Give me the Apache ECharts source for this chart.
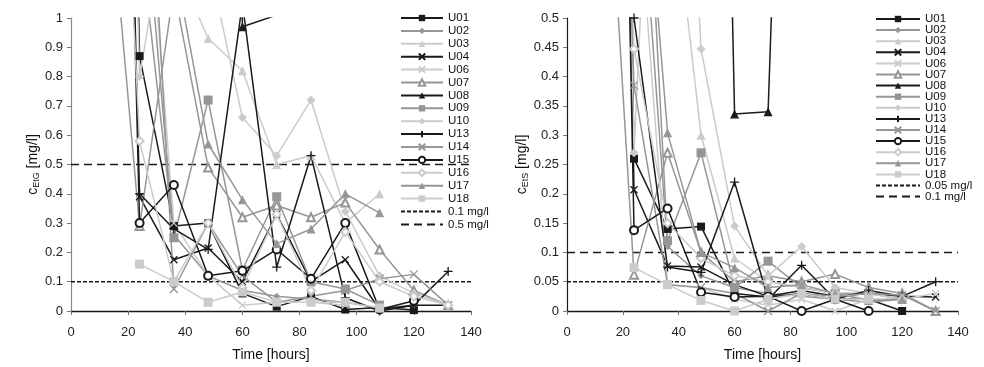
<!DOCTYPE html>
<html>
<head>
<meta charset="utf-8">
<script src="https://cdn.jsdelivr.net/npm/echarts@6/dist/echarts.min.js"></script>
<style>
  html, body { margin: 0; padding: 0; background: #fff; }
  #main { width: 984px; height: 367px; }
</style>
</head>
<body>
<div id="main"></div>
<script>
// sampling times (hours); first column is the off-scale early sample
var hours = [12, 24, 36, 48, 60, 72, 84, 96, 108, 120, 132];
var names = ['U01', 'U02', 'U03', 'U04', 'U06', 'U07', 'U08', 'U09', 'U10', 'U13', 'U14', 'U15', 'U16', 'U17', 'U18'];

// EtG [mg/l]
var etgU01 = [6, 0.87, 0.29, 0.30, 0.06, 0.015, 0.05, 0.005, 0.012, 0.003, null];
var etgU02 = [2.5, 1.3, 0.26, 0.12, 0.07, 0.05, 0.04, 0.03, 0.01, 0.02, null];
var etgU03 = [4, 2.5, 1.2, 0.93, 0.82, 0.50, 0.53, 0.30, 0.40, null, null];
var etgU04 = [5, 0.39, 0.175, 0.215, 0.10, 0.33, 0.10, 0.175, 0.005, 0.02, 0.02];
var etgU06 = [3, 1.8, 0.30, 0.12, 0.02, 0.03, 0.03, 0.02, null, null, null];
var etgU07 = [1.6, 0.29, 1.1, 0.49, 0.32, 0.36, 0.32, 0.37, 0.21, 0.07, 0.02];
var etgU08 = [null, 6, 4, 8, 0.97, 1.01, 2.5, null, null, null, null];
var etgU09 = [3, 1.6, 0.25, 0.72, 0.14, 0.39, 0.10, 0.075, 0.02, null, null];
var etgU10 = [5, 0.80, 1.5, 1.2, 0.66, 0.53, 0.72, 0.34, 0.12, 0.06, 0.02];
var etgU13 = [null, 0.40, 0.28, 0.21, 1.05, 0.15, 0.53, 0.045, 0.0, 0.02, 0.135];
var etgU14 = [4, 2.2, 0.075, 0.30, 0.12, 0.03, 0.05, 0.07, 0.11, 0.125, 0.02];
var etgU15 = [5, 0.30, 0.43, 0.12, 0.137, 0.21, 0.11, 0.30, 0.005, 0.035, null];
var etgU16 = [3, 0.58, 0.10, 0.30, 0.08, 0.33, 0.07, 0.27, 0.10, 0.05, 0.02];
var etgU17 = [2.5, 2, 1.2, 0.57, 0.38, 0.23, 0.28, 0.40, 0.335, null, null];
var etgU18 = [null, 0.16, 0.10, 0.03, 0.065, 0.03, 0.03, 0.03, 0.01, null, null];

// EtS [mg/l]
var etsU01 = [4, 0.26, 0.14, 0.144, 0.03, 0.024, 0.03, 0.02, 0.02, 0.0, null];
var etsU02 = [3, 0.9, 0.11, 0.06, 0.04, 0.03, 0.025, 0.02, 0.015, 0.02, null];
var etsU03 = [3, 1.5, 0.8, 0.30, 0.09, 0.05, 0.04, 0.03, 0.03, null, null];
var etsU04 = [3, 0.207, 0.077, 0.075, 0.045, 0.025, 0.035, 0.025, 0.03, 0.025, 0.024];
var etsU06 = [2, 0.8, 0.045, 0.04, 0.02, 0.01, 0.02, 0.0, 0.02, 0.02, 0.03];
var etsU07 = [1, 0.062, 0.27, 0.10, 0.05, 0.06, 0.05, 0.063, 0.04, 0.03, 0.0];
var etsU08 = [null, 2, 1.5, 3, 0.336, 0.34, 2, null, null, null, null];
var etsU09 = [2, 1.2, 0.12, 0.27, 0.04, 0.085, 0.04, 0.03, 0.03, 0.02, null];
var etsU10 = [3, 0.27, 1.5, 0.447, 0.145, 0.06, 0.11, 0.04, 0.03, 0.02, null];
var etsU13 = [null, 0.5, 0.075, 0.066, 0.22, 0.02, 0.078, 0.02, 0.035, 0.025, 0.05];
var etsU14 = [2, 0.385, 0.045, 0.04, 0.03, 0.0, 0.03, 0.025, 0.03, 0.027, 0.0];
var etsU15 = [3, 0.138, 0.175, 0.032, 0.024, 0.025, 0.0, 0.02, 0.0, null, null];
var etsU16 = [2, 0.447, 0.15, 0.09, 0.06, 0.05, 0.04, 0.03, 0.02, 0.02, null];
var etsU17 = [2, 1, 0.304, 0.10, 0.074, 0.04, 0.045, 0.03, 0.018, 0.02, null];
var etsU18 = [null, 0.074, 0.045, 0.018, 0.0, 0.02, 0.03, 0.02, 0.02, null, null];

var etgValues = [etgU01, etgU02, etgU03, etgU04, etgU06, etgU07, etgU08, etgU09, etgU10, etgU13, etgU14, etgU15, etgU16, etgU17, etgU18];
var etsValues = [etsU01, etsU02, etsU03, etsU04, etsU06, etsU07, etsU08, etsU09, etsU10, etsU13, etsU14, etsU15, etsU16, etsU17, etsU18];

// limit lines
var etgLimits = [0.1, 0.5];
var etsLimits = [0.05, 0.1];
var etgLimitNames = ['0.1 mg/l', '0.5 mg/l'];
var etsLimitNames = ['0.05 mg/l ', '0.1 mg/l '];

var black = '#1a1a1a', gray = '#969696', light = '#cbcbcb';
var crossPath = 'path://M0,0L10,10M10,0L0,10';
var plusPath = 'path://M5,0L5,10M0,5L10,5';
// colour / symbol for each person
var looks = [
  [black, 'rect', 8],
  [gray, 'diamond', 7],
  [light, 'triangle', 9],
  [black, crossPath, 7],
  [light, crossPath, 7],
  [gray, 'emptyTriangle', 8],
  [black, 'triangle', 9],
  [gray, 'rect', 9],
  [light, 'diamond', 9],
  [black, plusPath, 9],
  [gray, crossPath, 8],
  [black, 'emptyCircle', 8],
  [light, 'emptyDiamond', 8],
  [gray, 'triangle', 9],
  [light, 'rect', 9]
];

var font = 'Liberation Sans, Arial, sans-serif';
var myChart = echarts.init(document.getElementById('main'));
var series = [];

function addSeries(values, idx) {
  for (var i = 0; i < names.length; i++) {
    var pts = [];
    for (var j = 0; j < hours.length; j++) {
      if (values[i][j] !== null) pts.push([hours[j], values[i][j]]);
    }
    var lk = looks[i];
    var stroked = lk[1].indexOf('path') === 0 || lk[1].indexOf('empty') === 0;
    series.push({
      name: names[i],
      type: 'line',
      xAxisIndex: idx,
      yAxisIndex: idx,
      data: pts,
      symbol: lk[1],
      symbolSize: lk[2],
      showAllSymbol: true,
      clip: true,
      lineStyle: { color: lk[0], width: 1.5 },
      itemStyle: {
        color: lk[0],
        borderColor: lk[0],
        borderWidth: stroked ? 1.3 : 0
      },
      emphasis: { disabled: true },
      animation: false,
      z: 3
    });
  }
}
addSeries(etgValues, 0);
addSeries(etsValues, 1);

function addLimits(limits, idx, limitNames) {
  var dashes = [[4, 2], [8, 5]];
  for (var k = 0; k < limits.length; k++) {
    series.push({
      name: limitNames[k],
      type: 'line',
      xAxisIndex: idx,
      yAxisIndex: idx,
      data: [[0, limits[k]], [140, limits[k]]],
      symbol: 'none',
      lineStyle: { color: black, width: 1.5, type: dashes[k] },
      itemStyle: { color: black },
      emphasis: { disabled: true },
      animation: false,
      z: 2
    });
  }
}
addLimits(etgLimits, 0, etgLimitNames);
addLimits(etsLimits, 1, etsLimitNames);

function legendData(limitNames) {
  var d = names.slice();
  for (var k = 0; k < limitNames.length; k++) {
    d.push({ name: limitNames[k], itemStyle: { opacity: 0 } });
  }
  return d;
}

function xAxis(idx) {
  return {
    type: 'value', gridIndex: idx, min: 0, max: 140, interval: 20,
    name: 'Time [hours]', nameLocation: 'middle', nameGap: 37,
    nameTextStyle: { fontFamily: font, fontSize: 14, color: '#111' },
    axisLine: { lineStyle: { color: black, width: 1.3 } },
    axisTick: { lineStyle: { color: '#777' }, length: 4 },
    axisLabel: { fontFamily: font, fontSize: 13, color: '#222', margin: 15 },
    splitLine: { show: false }
  };
}
function yAxis(idx, max, interval, sub, axisColor, gap) {
  return {
    type: 'value', gridIndex: idx, min: 0, max: max, interval: interval,
    name: '{a|c}{b|' + sub + '}{a| [mg/l]}', nameLocation: 'middle', nameGap: gap,
    nameTextStyle: {
      fontFamily: font, color: '#111',
      rich: {
        a: { fontFamily: font, fontSize: 14, color: '#111' },
        b: { fontFamily: font, fontSize: 9, color: '#111', padding: [7, 0, 0, 0] }
      }
    },
    axisLine: { show: true, lineStyle: { color: axisColor, width: 1.2 } },
    axisTick: { show: true, lineStyle: { color: '#777' }, length: 4 },
    axisLabel: { fontFamily: font, fontSize: 13, color: '#222', margin: 8 },
    splitLine: { show: false }
  };
}

var option = {
  animation: false,
  grid: [
    { left: 71, top: 18, width: 400, height: 298 },
    { left: 567, top: 18, width: 391, height: 298 }
  ],
  xAxis: [xAxis(0), xAxis(1)],
  yAxis: [yAxis(0, 1, 0.1, 'EtG', '#888', 22), yAxis(1, 0.5, 0.05, 'EtS', black, 30)],
  legend: [
    {
      data: legendData(etgLimitNames),
      orient: 'vertical', left: 395, top: 7,
      itemWidth: 42, itemHeight: 8, itemGap: 0.9,
      textStyle: { fontFamily: font, fontSize: 11.5, color: '#111', lineHeight: 12 },
      selectedMode: false
    },
    {
      data: legendData(etsLimitNames),
      orient: 'vertical', left: 870, top: 8,
      itemWidth: 44, itemHeight: 8, itemGap: -0.9,
      textStyle: { fontFamily: font, fontSize: 11.5, color: '#111', lineHeight: 11 },
      selectedMode: false
    }
  ],
  series: series
};

option && myChart.setOption(option);
</script>
</body>
</html>
